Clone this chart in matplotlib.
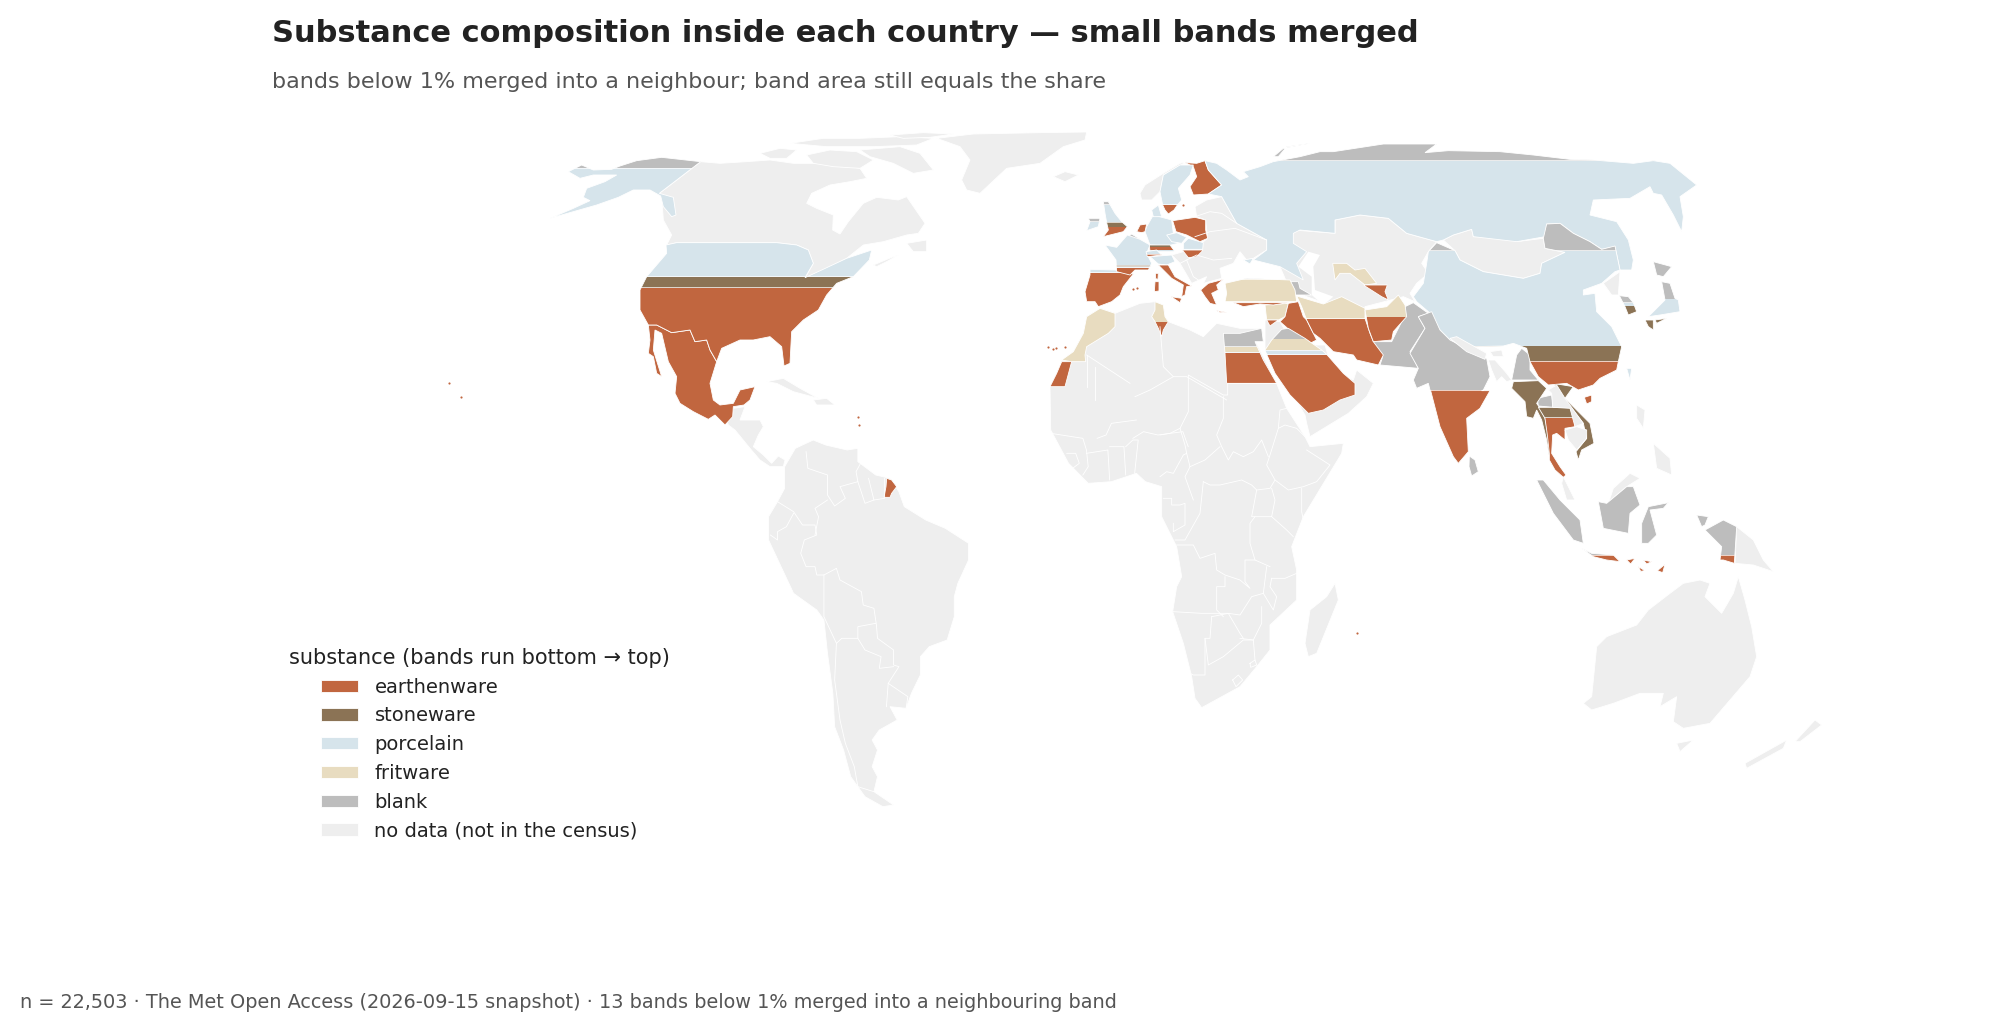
import matplotlib
matplotlib.use("Agg")
import matplotlib.pyplot as plt
from matplotlib.patches import Patch, Polygon, Rectangle

# outlines were traced per crop of the map, each crop has its own origin
Z1 = (540, 110, 3)
Z2 = (1040, 120, 3)
Z3 = (1300, 120, 3)
Z4 = (1400, 380, 3)
Z5 = (740, 420, 2.8)
Z7 = (1160, 340, 3)
Z8 = (1450, 320, 3)
Z9 = (720, 370, 3)
Z10 = (1060, 190, 3)
Z11 = (1240, 250, 3)


def at(z, pts):
    return [(z[0] + x / z[2], z[1] + y / 3) for x, y in pts]


def yat(z, ys):
    return [z[1] + y / 3 for y in ys]


substances = ["earthenware", "stoneware", "porcelain", "fritware", "blank"]
colors = {"earthenware": "#C1663F", "stoneware": "#8B7355", "porcelain": "#D6E4EB",
          "fritware": "#E8DCC0", "blank": "#BDBDBD", "no data": "#EEEEEE"}

# ---- no data land
canada = at(Z1, [(482,155),(540,160),(620,155),(690,150),(760,160),(830,160),(900,165),(960,175),(980,205),(930,215),(870,225),(815,250),(800,280),(830,295),(880,315),(878,360),(900,372),(925,335),(970,280),(1010,262),(1075,270),(1100,260),(1155,340),(1135,370),(1100,375),(1030,395),(970,405),(920,445),(850,480),(795,505),(820,460),(805,420),(770,405),(710,398),(410,398),(380,405),(395,375),(370,330),(365,258),(358,250)])
arctic_a = at(Z1, [(660,130),(720,115),(770,120),(740,145),(690,145)])
arctic_b = at(Z1, [(750,100),(850,85),(960,85),(1080,80),(1180,85),(1130,105),(1000,110),(860,110)])
arctic_c = at(Z1, [(800,135),(870,120),(950,125),(1000,150),(960,175),(880,170),(820,160)])
arctic_d = at(Z1, [(1050,75),(1150,68),(1240,72),(1170,82),(1090,85)])
baffin = at(Z1, [(960,120),(1080,110),(1140,130),(1180,180),(1120,190),(1060,160),(990,140)])
newfoundland = at(Z1, [(1100,400),(1160,390),(1160,425),(1120,425)])
nova_scotia = at(Z1, [(1000,465),(1060,440),(1075,435),(1040,455),(1010,470)])
cuba = at(Z1, [(680,815),(730,805),(780,835),(835,865),(760,845),(710,820)])
hispaniola = at(Z1, [(820,870),(860,865),(885,885),(830,885)])
greenland = at(Z1, [(1190,85),(1300,72),(1500,68),(1640,66),(1635,90),(1570,110),(1500,160),(1400,175),(1320,250),(1280,240),(1265,210),(1290,150),(1260,110)])
central_america = at(Z9, [(20,150),(40,115),(75,110),(60,150),(120,150),(130,170),(115,195),(100,230),(130,255),(155,280),(175,258),(195,270),(190,290),(150,290),(120,270),(90,235),(45,180),(25,165)])
south_america = at(Z5, [(125,140),(155,85),(205,60),(240,75),(300,90),(330,85),(330,125),(380,165),(420,175),(445,215),(460,260),(520,300),(575,325),(640,370),(640,420),(610,490),(600,530),(600,590),(580,660),(530,680),(505,710),(505,765),(480,820),(465,865),(420,860),(440,900),(390,930),(370,960),(385,990),(370,1040),(385,1070),(375,1115),(430,1155),(400,1160),(350,1130),(310,1070),(290,990),(265,920),(260,820),(245,700),(235,600),(215,570),(150,520),(115,440),(80,360),(80,290),(105,245),(125,205)])
africa = (at(Z2, [(180,565),(225,580),(300,550),(345,545),(370,555),(375,590),(385,605),(450,630),(490,650),(530,610),(600,625),(665,625)])
          + at(Z7, [(285,0),(300,30),(350,130),(380,205),(435,290),(450,320),(550,310),(545,340),(430,530),(395,620),(410,690),(410,780),(330,855),(330,930),(290,980),(240,1040),(125,1103),(105,1075),(95,1010),(70,910),(38,815),(50,740),(65,710),(50,620),(5,530),(5,440)])
          + at(Z5, [(1135,185),(1110,160),(1040,185),(975,190),(920,130),(870,30)])
          + at(Z2, [(30,800),(65,725),(100,695),(130,640),(140,590)]))
madagascar = at(Z7, [(525,730),(535,780),(470,940),(445,950),(435,910),(450,810),(500,770)])
australia = at(Z4, [(550,970),(575,950),(590,800),(620,770),(710,735),(745,690),(810,640),(850,610),(900,600),(930,610),(915,650),(965,700),(1000,640),(1015,590),(1035,660),(1055,740),(1070,830),(1050,890),(990,960),(930,1030),(850,1045),(820,1025),(830,950),(780,980),(790,940),(720,940),(640,970),(575,990)])
tasmania = at(Z4, [(830,1090),(880,1080),(840,1115)])
nz_north = at(Z4, [(1185,1085),(1245,1020),(1265,1035),(1200,1085)])
nz_south = at(Z4, [(1035,1150),(1160,1080),(1150,1105),(1040,1165)])
png = at(Z4, [(1010,440),(1060,480),(1090,540),(1120,575),(1060,555),(1005,550)])
luzon = at(Z4, [(710,75),(735,90),(730,145),(710,115)])
mindanao = at(Z4, [(760,190),(810,235),(815,285),(770,265)])
sabah = at(Z4, [(625,370),(640,325),(690,280),(720,295),(680,320),(620,370)])
malaya = at(Z8, [(340,470),(360,510),(375,540),(350,540),(335,490)])
iceland = at(Z2, [(40,170),(75,155),(115,165),(75,185)])
norway = at(Z2, [(300,220),(315,195),(370,160),(420,130),(440,125),(370,165),(360,215),(335,240),(305,240)])
east_europe = at(Z2, [(465,260),(500,240),(545,230),(590,310),(680,360),(680,390),(640,415),(620,420),(600,395),(580,430),(540,445),(545,475),(490,490),(500,470),(455,490),(420,430),(395,405),(430,395),(490,365),(503,355),(497,300),(470,290)])
central_asia = at(Z3, [(-60,340),(-20,330),(105,340),(105,300),(180,285),(265,295),(320,340),(410,365),(385,395),(365,430),(385,460),(350,490),(330,520),(345,545),(310,530),(195,560),(190,590),(20,530),(-30,510),(-60,440)])
mongolia = at(Z3, [(430,360),(460,345),(515,328),(520,350),(600,350),(650,365),(730,355),(735,385),(795,397),(725,430),(720,460),(670,475),(550,455),(480,420),(465,392)])
arabia_base = at(Z7, [(315,15),(495,15),(515,85),(580,120),(590,90),(640,130),(620,170),(565,220),(450,290),(440,250),(435,225),(375,125),(345,50)])
levant = at(Z2, [(675,600),(720,605),(740,640),(700,660),(675,690)])
nepal = at(Z3, [(450,655),(470,650),(560,700),(555,718),(500,695)])
bangladesh = at(Z8, [(115,120),(135,120),(170,160),(185,180),(170,185),(155,170),(140,185),(125,150)])
bhutan = at(Z8, [(120,95),(155,90),(160,110),(130,110)])
laos = at(Z8, [(295,210),(320,195),(345,235),(400,310),(375,320),(360,265),(308,262),(305,220)])
cambodia = at(Z8, [(345,330),(380,320),(410,330),(410,355),(380,390),(355,360)])
north_korea = at(Z3, [(910,490),(960,455),(955,525),(935,525)])
no_data_land = [canada, arctic_a, arctic_b, arctic_c, arctic_d, baffin, newfoundland, nova_scotia, cuba, hispaniola,
                greenland, central_america, south_america, africa, madagascar, australia, tasmania,
                nz_north, nz_south, png, luzon, mindanao, sabah, malaya, iceland, norway, east_europe,
                central_asia, mongolia, arabia_base, levant]
no_data_top = [nepal, bangladesh, bhutan, laos, cambodia, north_korea]

caspian = at(Z11, [(175,50),(205,5),(240,15),(220,50),(225,120),(280,140),(250,165),(215,135),(215,80)])

# ---- one substance only
mexico = at(Z1, [(325,645),(350,645),(395,668),(450,660),(465,695),(500,690),(510,720),(530,755),(510,820),(520,870),(540,885),(580,880),(600,840),(645,830),(630,870),(612,885),(580,890),(578,920),(555,945),(525,915),(505,928),(460,905),(420,880),(405,850),(410,800),(385,755),(365,670),(345,660),(340,720),(365,800),(350,790),(340,740),(325,730),(330,690)])
french_guiana = at(Z9, [(500,325),(515,330),(530,350),(515,370),(510,382),(492,382),(498,350)])
finland = at(Z2, [(435,128),(470,130),(495,122),(505,150),(545,195),(505,222),(460,225),(450,200),(470,170),(460,140)])
poland = at(Z2, [(398,302),(465,292),(497,300),(497,330),(503,355),(480,365),(440,345),(408,335)])
hungary = at(Z10, [(367,180),(430,180),(410,200),(385,203)])
netherlands = at(Z2, [(290,335),(300,315),(320,312),(315,335),(305,338)])
italy = at(Z10, [(295,225),(325,225),(345,260),(395,288),(380,290),(375,315),(365,320),(370,285),(335,265),(310,240)])
sicily = at(Z10, [(333,320),(365,325),(360,338)])
sardinia = at(Z10, [(285,275),(297,275),(297,303),(283,305)])
corsica = at(Z10, [(286,250),(295,250),(294,268),(287,266)])
greece = at(Z10, [(422,300),(445,280),(490,268),(470,285),(475,300),(455,310),(470,345),(450,340),(435,320)])
crete = at(Z10, [(470,362),(500,367),(480,368)])
iraq = at(Z2, [(745,550),(775,545),(790,590),(800,600),(820,640),(830,660),(800,675),(720,605),(735,590)])
israel = at(Z2, [(680,600),(715,600),(690,618)])
uz_south = at(Z11, [(370,105),(442,105),(435,125),(445,150),(425,140)])
hainan = at(Z8, [(403,232),(425,225),(425,245),(410,252)])
west_sahara = at(Z2, [(65,725),(95,725),(75,800),(30,800),(50,760)])
sunda_a = at(Z4, [(580,525),(640,530),(660,545),(620,540)])
sunda_b = at(Z4, [(680,540),(705,535),(692,552)])
sunda_c = at(Z4, [(730,540),(755,545),(740,552)])
timor = at(Z4, [(772,572),(795,553),(788,578)])
sumba = at(Z4, [(715,560),(735,572),(722,574)])
turkey_south = at(Z2, [(580,548),(745,548),(700,555),(660,552),(610,560)])
earthenware_solid = [mexico, french_guiana, finland, poland, hungary, netherlands, italy, sicily, sardinia,
                     corsica, greece, crete, iraq, israel, uz_south, hainan, west_sahara, sunda_a, sunda_b,
                     sunda_c, timor, sumba, turkey_south]

morocco = at(Z2, [(65,720),(100,695),(130,640),(140,590),(180,565),(225,580),(225,620),(205,640),(140,680),(135,705),(137,725),(95,725)])
syria = at(Z2, [(675,555),(745,550),(735,590),(715,600),(680,600)])
uzbek = at(Z11, [(278,40),(320,40),(345,60),(375,55),(410,100),(375,105),(330,70),(300,70),(285,90)])
fritware_solid = [morocco, syria, uzbek]

germany = at(Z2, [(320,320),(340,285),(395,300),(400,340),(385,345),(415,370),(380,378),(330,375),(315,335)])
czechia = at(Z2, [(380,345),(410,338),(440,352),(425,370),(395,365)])
slovakia = at(Z2, [(430,370),(445,355),(490,368),(488,388),(430,388)])
denmark = at(Z2, [(335,270),(355,255),(365,290),(340,290)])
north_italy = at(Z10, [(270,200),(335,195),(345,215),(320,225),(295,222)])
taiwan = at(Z3, [(980,745),(995,745),(990,780)])
crimea = at(Z2, [(610,420),(640,415),(630,432)])
porcelain_solid = [germany, czechia, slovakia, denmark, north_italy, taiwan, crimea]

myanmar = at(Z8, [(190,185),(265,182),(290,205),(260,250),(270,265),(285,295),(292,330),(304,375),(304,405),(297,405),(290,360),(275,300),(260,270),(250,295),(230,290),(225,245),(185,205)])
vietnam = at(Z8, [(310,190),(370,200),(345,235),(420,310),(432,370),(395,390),(385,420),(378,395),(410,355),(400,310),(345,240)])
kyushu = at(Z3, [(1035,600),(1060,600),(1060,630),(1045,620)])
shikoku = at(Z3, [(1065,600),(1100,595),(1070,610)])
stoneware_solid = [myanmar, vietnam, kyushu, shikoku]

sri_lanka = at(Z4, [(208,228),(225,240),(235,275),(215,288),(207,260)])
pakistan = at(Z3, [(315,560),(340,548),(385,580),(355,590),(375,625),(330,695),(355,745),(240,735),(248,710),(215,665),(275,665),(310,595)])
ne_india = at(Z8, [(185,180),(200,105),(215,85),(240,105),(240,150),(265,180)])
thai_north = at(Z8, [(262,235),(305,225),(310,262),(265,258)])
sumatra = at(Z4, [(410,300),(430,300),(480,360),(540,420),(550,490),(520,480),(460,400)])
borneo = at(Z4, [(595,365),(620,370),(680,320),(700,320),(720,375),(690,400),(685,460),(610,445)])
sulawesi = at(Z4, [(745,380),(805,368),(790,385),(750,390),(770,465),(745,490),(725,490),(725,430)])
halmahera = at(Z4, [(890,405),(925,410),(915,435),(905,440)])
hokkaido = at(Z3, [(1060,425),(1115,440),(1090,470),(1070,465)])
belgium = at(Z2, [(262,352),(275,342),(300,358),(283,358)])
novaya = at(Z2, [(700,110),(730,85),(810,70),(740,80),(715,110)])
caucasus = at(Z11, [(150,95),(175,95),(180,115),(215,135),(163,135)])
blank_solid = [sri_lanka, pakistan, ne_india, thai_north, sumatra, borneo, sulawesi, halmahera, hokkaido,
               belgium, novaya, caucasus]

# ---- countries split into bands, top to bottom, breaks are the band edges
usa = at(Z1, [(410,398),(710,398),(770,405),(805,420),(820,460),(795,503),(845,480),(920,445),(995,420),(988,450),(940,500),(890,520),(860,555),(835,600),(790,630),(755,665),(750,760),(732,768),(725,710),(690,680),(640,690),(600,690),(545,715),(530,755),(510,720),(500,690),(465,695),(450,660),(395,668),(350,645),(325,645),(300,600),(300,540),(320,500),(380,430),(378,405)])
usa_bands = ["porcelain", "stoneware", "earthenware"]
usa_breaks = yat(Z1, [500, 533])

alaska = at(Z1, [(240,168),(290,152),(365,142),(482,155),(358,250),(400,262),(408,315),(395,320),(370,290),(362,258),(330,240),(280,240),(235,262),(170,285),(100,305),(30,325),(100,295),(150,272),(130,262),(140,235),(195,215),(230,195),(160,195),(120,205),(85,185),(125,165),(160,180),(215,178)])
alaska_bands = ["blank", "porcelain"]
alaska_breaks = yat(Z1, [175])

russia = (at(Z2, [(530,130),(560,150),(600,180),(625,170),(610,155),(660,140),(700,125),(780,110)])
          + at(Z3, [(60,95),(100,95),(250,72),(410,72),(375,98),(445,92),(600,95),(700,105),(810,118),(880,120),(1000,130),(1060,122),(1110,130),(1190,195),(1140,230),(1150,290),(1145,335),(1120,285),(1085,225),(1060,220),(1050,200),(990,235),(880,240),(870,285),(950,305),(985,360),(1000,420),(995,450),(960,450),(945,380),(905,388),(870,365),(820,340),(780,310),(740,312),(735,350),(650,365),(520,350),(515,328),(460,345),(430,360),(410,365),(320,340),(265,295),(180,285),(105,300),(105,340),(0,330)])
          + at(Z2, [(760,340),(760,370),(800,395),(770,430),(790,480),(720,440),(640,420),(680,390),(680,360),(590,310),(545,230),(505,222),(545,195),(505,150),(495,122)]))
russia_bands = ["blank", "porcelain"]
russia_breaks = yat(Z3, [122])

china = at(Z3, [(410,368),(465,392),(480,420),(550,455),(670,475),(720,460),(725,430),(795,397),(735,385),(730,355),(740,312),(780,310),(820,340),(870,365),(905,388),(945,378),(960,450),(945,455),(905,490),(850,510),(850,525),(885,520),(890,575),(935,620),(965,680),(955,725),(950,750),(900,775),(880,795),(835,810),(800,790),(745,795),(715,770),(690,725),(680,685),(640,670),(610,678),(510,680),(450,660),(420,630),(385,575),(350,545),(340,530),(370,490),(380,430),(385,395)])
china_bands = ["blank", "porcelain", "stoneware", "earthenware"]
china_breaks = yat(Z3, [392, 678, 724])

india = (at(Z3, [(395,575),(420,630),(450,660),(510,690),(560,715),(570,770),(550,810),(545,812)])
         + at(Z4, [(270,32),(240,85),(200,115),(205,215),(175,250),(160,230),(120,140),(92,32)])
         + at(Z3, [(390,810),(385,790),(350,805),(340,780),(355,745),(330,700),(375,625),(355,590)]))
india_bands = ["blank", "earthenware"]
india_breaks = yat(Z3, [811])

iran = at(Z2, [(770,528),(850,552),(905,530),(975,565),(975,595),(990,640),(1000,665),(1030,705),(1015,735),(950,720),(940,705),(880,695),(840,655),(820,640),(800,600),(785,560)])
iran_bands = ["fritware", "earthenware"]
iran_breaks = yat(Z2, [596])

afghanistan = at(Z2, [(975,570),(1040,560),(1075,525),(1095,555),(1100,590),(1060,635),(1055,660),(1000,665),(985,625)])
afghan_bands = ["fritware", "earthenware"]
afghan_breaks = yat(Z2, [591])

turkey = at(Z2, [(555,490),(620,475),(750,480),(765,510),(770,545),(555,545),(560,520)])
turkey_bands = ["blank", "fritware"]
turkey_breaks = yat(Z2, [478])

saudi = at(Z2, [(725,628),(745,625),(795,655),(845,690),(860,703),(910,760),(945,790),(945,825),(900,840),(850,870),(805,880),(750,825),(705,760),(680,703),(675,690),(695,660)])
saudi_bands = ["blank", "fritware", "porcelain", "earthenware"]
saudi_breaks = yat(Z2, [657, 691, 704])

egypt = at(Z2, [(550,640),(600,640),(665,625),(670,665),(645,665),(670,720),(710,790),(560,790),(555,700)])
egypt_bands = ["blank", "fritware", "porcelain", "earthenware"]
egypt_breaks = yat(Z2, [680, 697, 699])

tunisia = at(Z2, [(345,545),(370,555),(375,590),(385,605),(370,630),(365,650),(355,625),(345,605),(335,590),(345,570)])
tunisia_bands = ["fritware", "earthenware"]
tunisia_breaks = yat(Z2, [606])

spain = at(Z2, [(150,448),(225,450),(280,462),(250,500),(240,525),(215,545),(175,560),(165,545),(140,545),(135,515),(150,465)])
spain_bands = ["porcelain", "earthenware"]
spain_breaks = yat(Z2, [458])

france = at(Z2, [(195,375),(230,382),(262,345),(300,358),(330,375),(320,400),(335,430),(325,450),(285,450),(270,465),(230,455),(228,420)])
france_bands = ["porcelain", "stoneware", "porcelain", "earthenware"]
france_breaks = yat(Z2, [436, 440, 443])

sweden = at(Z2, [(360,215),(370,165),(420,135),(460,135),(450,165),(415,205),(425,240),(412,255),(402,270),(385,282),(375,270),(368,255),(365,240)])
sweden_bands = ["porcelain", "earthenware"]
sweden_breaks = yat(Z2, [254])

britain = at(Z2, [(190,245),(205,245),(225,280),(245,305),(262,320),(250,335),(190,350),(205,330),(200,308),(195,280)])
britain_bands = ["blank", "porcelain", "stoneware", "earthenware"]
britain_breaks = yat(Z2, [254, 307, 321])

ireland = at(Z2, [(145,295),(180,295),(175,320),(140,332),(150,305)])
ireland_bands = ["blank", "porcelain"]
ireland_breaks = yat(Z2, [305])

austria = at(Z10, [(268,165),(330,165),(345,185),(270,185)])
austria_bands = ["stoneware", "earthenware", "porcelain"]
austria_breaks = yat(Z10, [171, 180])

swiss = at(Z10, [(258,185),(290,180),(305,195),(262,200)])
swiss_bands = ["porcelain", "earthenware"]
swiss_breaks = yat(Z10, [193])

thailand = at(Z8, [(265,262),(360,262),(375,295),(375,320),(345,325),(345,360),(320,340),(308,345),(305,400),(330,440),(348,465),(340,472),(315,450),(298,420),(298,400),(292,345),(285,295)])
thai_bands = ["stoneware", "earthenware"]
thai_breaks = yat(Z8, [293])

south_korea = at(Z3, [(958,527),(985,530),(1000,548),(1010,575),(985,585),(975,560)])
korea_bands = ["blank", "porcelain", "stoneware"]
korea_breaks = yat(Z3, [548, 558])

honshu = at(Z3, [(1085,485),(1110,490),(1125,535),(1135,540),(1140,575),(1080,585),(1045,590),(1095,540)])
honshu_bands = ["blank", "porcelain"]
honshu_breaks = yat(Z3, [537])

java = at(Z4, [(545,505),(575,520),(640,525),(660,545),(620,540),(580,530)])
java_bands = ["blank", "earthenware"]
java_breaks = yat(Z4, [526])

west_papua = at(Z4, [(915,450),(970,420),(1010,440),(1003,550),(970,540),(960,540),(965,500)])
papua_bands = ["blank", "earthenware"]
papua_breaks = yat(Z4, [526])

split_countries = [(usa, usa_bands, usa_breaks), (alaska, alaska_bands, alaska_breaks),
                   (russia, russia_bands, russia_breaks), (china, china_bands, china_breaks),
                   (india, india_bands, india_breaks), (iran, iran_bands, iran_breaks),
                   (afghanistan, afghan_bands, afghan_breaks), (turkey, turkey_bands, turkey_breaks),
                   (saudi, saudi_bands, saudi_breaks), (egypt, egypt_bands, egypt_breaks),
                   (tunisia, tunisia_bands, tunisia_breaks), (spain, spain_bands, spain_breaks),
                   (france, france_bands, france_breaks), (sweden, sweden_bands, sweden_breaks),
                   (britain, britain_bands, britain_breaks), (ireland, ireland_bands, ireland_breaks),
                   (austria, austria_bands, austria_breaks), (swiss, swiss_bands, swiss_breaks),
                   (thailand, thai_bands, thai_breaks), (south_korea, korea_bands, korea_breaks),
                   (honshu, honshu_bands, honshu_breaks), (java, java_bands, java_breaks),
                   (west_papua, papua_bands, papua_breaks)]

# tiny islands, drawn as dots
island_dots = (at(Z9, [(415,140),(417,165)]) + at(Z7, [(590,880)])
               + at(Z2, [(25,680),(38,688),(48,685),(75,680),(430,256)])
               + at(Z10, [(218,296),(232,293)]) + [(449,383),(461,397)])

# ---- borders inside the no data land
borders = [
    at(Z5, [(185,95),(190,145),(245,165),(245,225),(265,258),(295,235),(280,200),(330,185),(325,155),(340,125)]),
    at(Z5, [(330,185),(350,250),(375,240),(360,175)]),
    at(Z5, [(375,240),(405,235),(405,175)]),
    at(Z5, [(105,245),(150,275),(175,315),(210,315),(215,345),(180,360),(170,400),(185,440),(210,440),(215,465),(235,465),(270,445),(280,480),(340,515),(345,555),(375,565),(382,615),(385,655),(430,690),(430,735),(445,740),(415,790),(410,860)]),
    at(Z5, [(210,345),(220,290),(210,265),(245,240)]),
    at(Z5, [(150,280),(130,320),(105,335),(105,360),(85,345)]),
    at(Z5, [(235,465),(235,590),(270,670),(285,655),(330,655),(330,620),(380,610)]),
    at(Z5, [(330,655),(350,690),(395,710),(390,745),(430,740)]),
    at(Z5, [(270,670),(265,780),(280,900),(295,970),(320,1040),(330,1100),(375,1115)]),
    at(Z5, [(415,790),(470,830),(465,865)]),
    at(Z7, [(203,130),(203,165),(190,165),(85,105),(85,215),(60,265),(75,315),(80,340),(90,380)]),
    at(Z7, [(190,170),(190,235),(170,285),(185,320),(205,360),(220,335),(250,350),(280,335),(305,300),(325,350)]),
    at(Z7, [(90,380),(135,360),(180,320)]),
    at(Z7, [(90,380),(75,410),(100,480)]),
    at(Z7, [(130,425),(150,435),(180,435),(245,420),(275,435),(290,450),(330,445),(345,420),(320,375),(330,345),(355,265),(375,255),(410,265),(440,295)]),
    at(Z7, [(203,130),(350,130)]),
    at(Z7, [(355,265),(360,210),(380,205)]),
    at(Z7, [(345,420),(385,450),(430,440),(470,425),(510,375),(440,330)]),
    at(Z7, [(425,445),(425,515),(430,540)]),
    at(Z7, [(335,530),(380,570),(400,590)]),
    at(Z7, [(290,450),(275,530),(335,530),(345,480),(335,445)]),
    at(Z7, [(335,715),(375,715),(410,700)]),
    at(Z7, [(285,530),(270,550),(270,610),(285,660),(330,680)]),
    at(Z7, [(285,660),(255,660),(255,725),(270,745),(240,720),(195,705),(170,690),(165,640),(120,655),(100,615),(50,615)]),
    at(Z7, [(195,710),(195,740),(170,740),(170,810),(190,830)]),
    at(Z7, [(40,815),(125,820),(205,820),(240,825),(275,770),(310,760)]),
    at(Z7, [(320,680),(310,760),(340,810),(350,770),(330,740),(335,715)]),
    at(Z7, [(305,800),(305,850),(280,900),(240,895)]),
    at(Z7, [(155,830),(150,895),(135,895),(135,1005),(100,1005),(90,1000)]),
    at(Z7, [(135,895),(145,975),(190,950),(250,900),(280,900),(285,960)]),
    at(Z7, [(218,1020),(235,1005),(248,1020),(228,1040),(218,1020)]),
    at(Z7, [(270,970),(285,960),(290,975),(272,982),(270,970)]),
    at(Z7, [(155,830),(205,820),(240,880),(250,895)]),
    at(Z7, [(10,475),(35,475),(35,495),(60,495),(75,490),(75,555),(40,575),(40,550)]),
    at(Z7, [(45,600),(75,600),(120,520),(130,425)]),
    at(Z7, [(0,410),(20,395),(40,400),(70,345),(80,340)]),
    at(Z7, [(0,285),(30,280),(60,265)]),
    at(Z5, [(870,40),(960,55),(970,90),(975,140),(960,165)]),
    at(Z5, [(915,100),(940,100),(950,130),(925,150)]),
    at(Z5, [(970,100),(1030,90),(1035,180)]),
    at(Z5, [(1035,80),(1075,80),(1080,165)]),
    at(Z5, [(1080,80),(1100,60),(1115,60),(1105,160)]),
    at(Z5, [(1000,55),(1025,45),(1040,10),(1110,0)]),
    at(Z5, [(1100,55),(1130,35),(1170,45),(1240,35),(1255,80)]),
    at(Z2, [(140,705),(140,800)]),
    at(Z2, [(140,705),(270,790)]),
    at(Z2, [(165,740),(165,840)]),
    at(Z2, [(360,620),(370,740),(400,770),(440,770),(560,840)]),
    at(Z2, [(400,770),(330,810),(285,830)]),
    at(Z2, [(420,430),(470,405),(520,420),(575,415)]),
    at(Z2, [(465,350),(510,335),(585,325),(680,360)]),
    at(Z2, [(465,290),(510,275),(545,280),(590,310)]),
    at(Z2, [(440,420),(460,470),(490,490)]),
]

title = "Substance composition inside each country — small bands merged"
subtitle = "bands below 1% merged into a neighbour; band area still equals the share"
legend_title = "substance (bands run bottom → top)"
nodata_label = "no data (not in the census)"
footer = "n = 22,503 · The Met Open Access (2026-09-15 snapshot) · 13 bands below 1% merged into a neighbouring band"

WHITE_LW = 0.3

fig = plt.figure(figsize=(9.99, 5.17), dpi=200)
ax = fig.add_axes([0, 0, 1, 1])
ax.set_xlim(0, 1998)
ax.set_ylim(1034, 0)
ax.axis("off")

for shape in no_data_land:
    ax.add_patch(Polygon(shape, fc=colors["no data"], ec="white", lw=WHITE_LW))
for line in borders:
    ax.plot(*zip(*line), color="white", lw=WHITE_LW)
ax.add_patch(Polygon(caspian, fc="white", ec="white", lw=0))


def solid(shapes, name):
    for shape in shapes:
        ax.add_patch(Polygon(shape, fc=colors[name], ec="white", lw=WHITE_LW))


solid(blank_solid, "blank")
solid(porcelain_solid, "porcelain")
solid(fritware_solid, "fritware")
solid(stoneware_solid, "stoneware")
solid(earthenware_solid, "earthenware")

for shape, bands, breaks in split_countries:
    edges = [0] + breaks + [1034]
    for i, name in enumerate(bands):
        p = Polygon(shape, fc=colors[name], ec="white", lw=WHITE_LW)
        ax.add_patch(p)
        p.set_clip_path(Rectangle((0, edges[i]), 1998, edges[i + 1] - edges[i], transform=ax.transData))
    for b in breaks:
        ax.add_patch(Rectangle((0, b - 0.4), 1998, 0.8, fc="white", ec="none", alpha=0.7,
                               clip_path=Polygon(shape, transform=ax.transData)))

solid(no_data_top, "no data")
ax.scatter(*zip(*island_dots), s=0.6, color=colors["earthenware"], lw=0)

ax.text(272, 34, title, fontsize=11, fontweight="bold", color="#222222", va="center")
ax.text(272, 82, subtitle, fontsize=8, color="#555555", va="center")
ax.text(20, 1003, footer, fontsize=6.95, color="#555555", va="center")

handles = [Patch(fc=colors[s], ec="white", lw=0.3, label=s) for s in substances]
handles.append(Patch(fc=colors["no data"], ec="white", lw=0.3, label=nodata_label))
leg = ax.legend(handles=handles, title=legend_title, frameon=False, fontsize=7, title_fontsize=7.5,
                loc="upper left", bbox_to_anchor=(289 / 1998, 1 - 648 / 1034), borderaxespad=0, borderpad=0,
                handlelength=1.9, handleheight=0.6, labelspacing=0.5, handletextpad=0.85)
for t in leg.get_texts():
    t.set_color("#222222")
leg.get_title().set_color("#222222")

fig.savefig("out.png", dpi=200, facecolor="white")
